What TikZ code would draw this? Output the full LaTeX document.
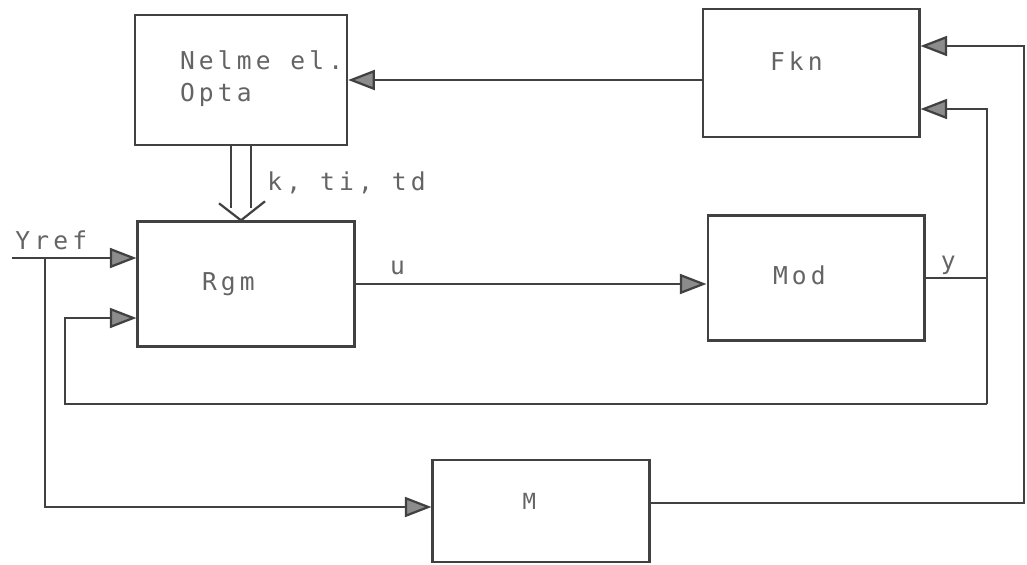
\documentclass[tikz,border=0pt]{standalone}
\usepackage{fontspec}
\newfontfamily\plotfont[LetterSpace=17]{DejaVu Sans Mono}
\usetikzlibrary{arrows.meta,positioning,calc}
\definecolor{PenGray}{RGB}{65,65,65}
\definecolor{TipGray}{RGB}{140,140,140}
\definecolor{InkGray}{RGB}{100,100,100}
\tikzset{
  block/.style={draw=PenGray, line width=2pt, minimum width=6.5cm,
    minimum height=3.75cm, font=\plotfont\fontsize{21}{27}\selectfont,
    text=InkGray, align=left},
  tag/.style={font=\plotfont\fontsize{21}{27}\selectfont, text=InkGray,
    inner sep=1pt},
  sig/.style={draw=PenGray, line width=1.9pt},
  arrow/.style={sig, -{Triangle[length=8mm, width=6mm, fill=TipGray]}},
  dbl/.style={draw=PenGray, line width=1.9pt, line join=miter}
}

\begin{document}
\begin{tikzpicture}[x=0.3mm, y=-0.3mm]
  \useasboundingbox (0,0) rectangle (1027,565);
  % blocks
  \node[block, minimum width=6.36cm, minimum height=3.9cm, text width=3.66cm,
    text height=5mm] (nelme) at (241,80) {\mbox{Nelme\hspace{0.8em}el.}\\Opta};
  \node[block, minimum height=3.84cm, text width=2.46cm, text depth=7mm] (fkn) at (811,73) {Fkn};
  \node[block, text width=2.64cm] (rgm) at (246,284) {Rgm};
  \node[block, text width=2.58cm, text depth=2mm] (mod) at (816,278) {Mod};
  \node[block, minimum height=3.06cm, text width=1.1cm, text depth=6mm,
    font=\plotfont\fontsize{19}{22}\selectfont] (mm) at (541,511) {M};
  % corner points
  \coordinate (yin) at (12,258);
  \coordinate (ybr) at (45,258);
  \coordinate (yj) at (987,278);
  \coordinate (fkin) at (987,109);
  \coordinate (fbr) at (987,404);
  \coordinate (fbl) at (65,404);
  \coordinate (fbin) at (65,318);
  \coordinate (mr) at (1024,503);
  \coordinate (fktop) at (1024,46);
  \coordinate (ktip) at (nelme.south |- rgm.north);
  % connectors
  \draw[arrow] (fkn.west |- nelme.east) -- (nelme.east);
  \draw[dbl] ($(nelme.south)+(-10,0)$) -- ($(ktip)+(-10,-12)$);
  \draw[dbl] ($(nelme.south)+(10,0)$) -- ($(ktip)+(10,-12)$);
  \draw[dbl] ($(ktip)+(-22,-17)$) -- (ktip) -- ($(ktip)+(24,-19)$);
  \node[tag, anchor=west] (kpar) at (266,183) {k, ti, td};
  \draw[arrow] (yin) -- (rgm.west |- yin);
  \node[tag, anchor=base west] (yref) at (14,249) {Yref};
  \draw[arrow] (ybr) |- (mm.west |- 0,507);
  \draw[arrow] (rgm.east) -- (rgm.east -| mod.west)
    node[tag, pos=0.12, above=2mm] (ulbl) {u};
  \draw[sig] (mod.east) -- (yj) node[tag, pos=0.37, above=0.3mm] (ylbl) {y};
  \draw[arrow] (fbr) -- (fkin) -- (fkn.east |- fkin);
  \draw[arrow] (fbr) -- (fbl) -- (fbin) -- (rgm.west |- fbin);
  \draw[arrow] (mm.east |- mr) -- (mr) -- (fktop) -- (fkn.east |- fktop);
\end{tikzpicture}
\end{document}
